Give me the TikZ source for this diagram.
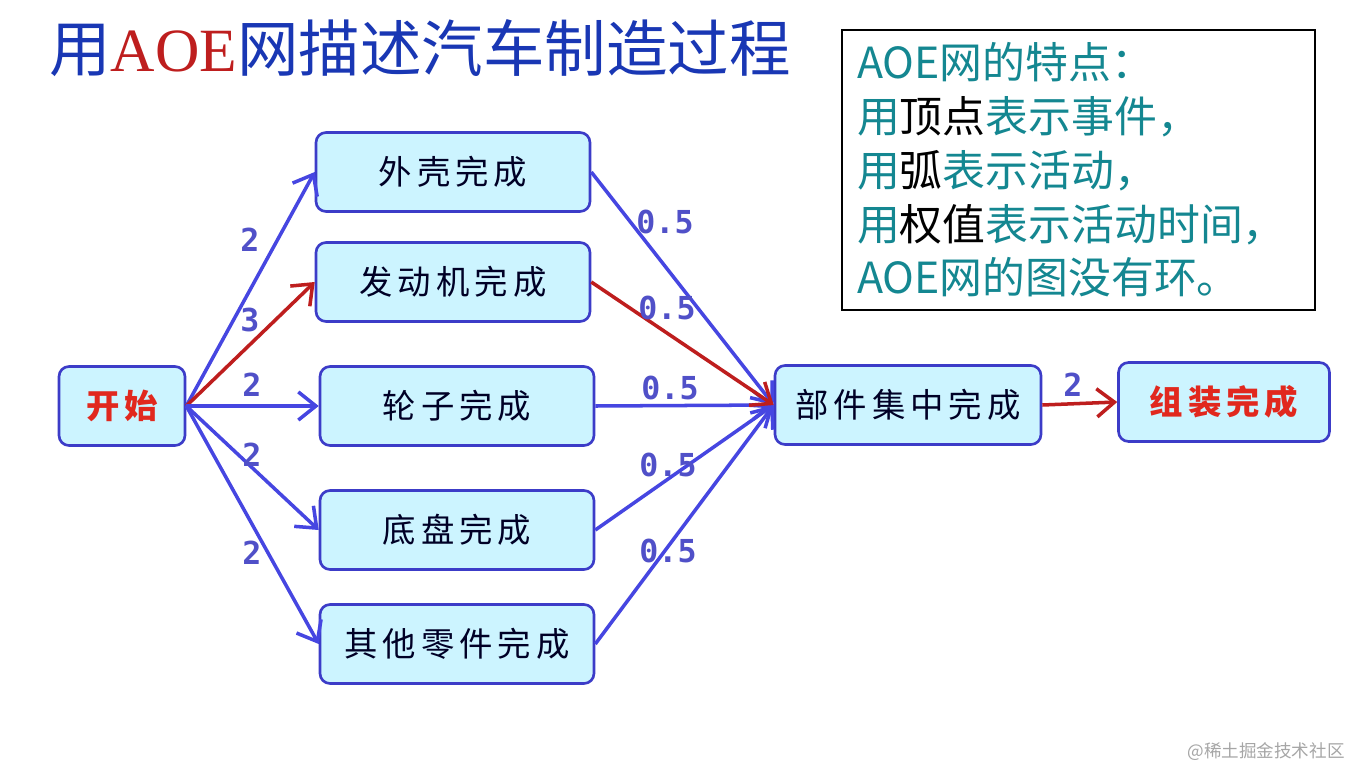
\documentclass[tikz,border=0pt]{standalone}
\usepackage{fontspec}
\newfontfamily\cjk{Noto Sans CJK SC}
\newfontfamily\cjkespace[LetterSpace=15]{Noto Sans CJK SC}
\newfontfamily\latinserif{Liberation Serif}
\newfontfamily\chiffres{DejaVu Sans Mono}
\usetikzlibrary{arrows.meta}

\definecolor{bleuboite}{RGB}{60,60,200}
\definecolor{fondboite}{RGB}{204,244,255}
\definecolor{bleufleche}{RGB}{70,70,225}
\definecolor{rougefleche}{RGB}{190,30,30}
\definecolor{rougetexte}{RGB}{225,40,30}
\definecolor{bleutitre}{RGB}{25,55,180}
\definecolor{turquoise}{RGB}{20,135,145}
\definecolor{bleuchiffre}{RGB}{80,80,200}

\tikzset{
  etape/.style={draw=bleuboite, line width=1.5pt, fill=fondboite, rounded corners=0.2cm,
    minimum width=5.48cm, minimum height=1.58cm, font=\cjkespace\fontsize{19}{19}\selectfont, text=black!85!blue},
  fleche/.style={-{Straight Barb[length=10pt,width=16pt]}, line width=2pt, color=bleufleche},
  critique/.style={fleche, color=rougefleche},
  poids/.style={font=\chiffres\bfseries\fontsize{18}{18}\selectfont, text=bleuchiffre},
}

\begin{document}
\begin{tikzpicture}[x=0.02cm, y=-0.02cm]
    \useasboundingbox [fill=white] (0,0) rectangle (1355,771);

    %titre
    \node [font=\cjk\fontsize{35}{35}\selectfont, text=bleutitre] (titre) at (420,48)
      {用{\latinserif\color{rougefleche}AOE}网描述汽车制造过程};

    %cadre des particularites
    \node [draw=black, line width=1.2pt, fill=white, anchor=north west, minimum width=9.46cm, minimum height=5.6cm,
      text width=8.86cm, inner xsep=0.3cm, align=left, font=\cjk\fontsize{24.4}{30.6}\selectfont, text=turquoise] (cadre) at (841,29)
      {AOE网的特点：\\用{\color{black}顶点}表示事件，\\用{\color{black}弧}表示活动，\\用{\color{black}权值}表示活动时间，\\AOE网的图没有环。};

    %les sommets
    \node [etape, minimum width=2.52cm, text=rougetexte] (debut) at (122,406) {\bfseries 开始};
    \node [etape] (coque) at (453,172) {外壳完成};
    \node [etape] (moteur) at (453,282) {发动机完成};
    \node [etape] (roues) at (457,406) {轮子完成};
    \node [etape] (chassis) at (457,530) {底盘完成};
    \node [etape] (pieces) at (457,644) {其他零件完成};
    \node [etape, minimum width=5.32cm] (ensemble) at (908,405) {部件集中完成};
    \node [etape, minimum width=4.22cm, text=rougetexte] (montage) at (1224,402) {\bfseries 组装完成};

    %les arcs
    \draw [fleche] (debut.east) -- (coque.west);
    \draw [critique] (debut.east) -- (moteur.west);
    \draw [fleche] (debut.east) -- (roues.west);
    \draw [fleche] (debut.east) -- (chassis.west);
    \draw [fleche] (debut.east) -- (pieces.west);
    \draw [fleche] (coque.east) -- (ensemble.west);
    \draw [fleche] (roues.east) -- (ensemble.west);
    \draw [fleche] (chassis.east) -- (ensemble.west);
    \draw [fleche] (pieces.east) -- (ensemble.west);
    \draw [critique] (moteur.east) -- (ensemble.west);
    \draw [critique] (ensemble.east) -- (montage.west);

    %les poids
    \node [poids] (p1) at (250,240) {2};
    \node [poids] (p2) at (250,320) {3};
    \node [poids] (p3) at (252,385) {2};
    \node [poids] (p4) at (252,455) {2};
    \node [poids] (p5) at (252,553) {2};
    \node [poids] (q1) at (665,222) {0.5};
    \node [poids] (q2) at (667,308) {0.5};
    \node [poids] (q3) at (670,388) {0.5};
    \node [poids] (q4) at (668,465) {0.5};
    \node [poids] (q5) at (668,551) {0.5};
    \node [poids] (r1) at (1073,385) {2};

    %filigrane
    \node [font=\cjk\fontsize{10}{10}\selectfont, text=black!35] (filigrane) at (1266,752) {@稀土掘金技术社区};
\end{tikzpicture}
\end{document}
